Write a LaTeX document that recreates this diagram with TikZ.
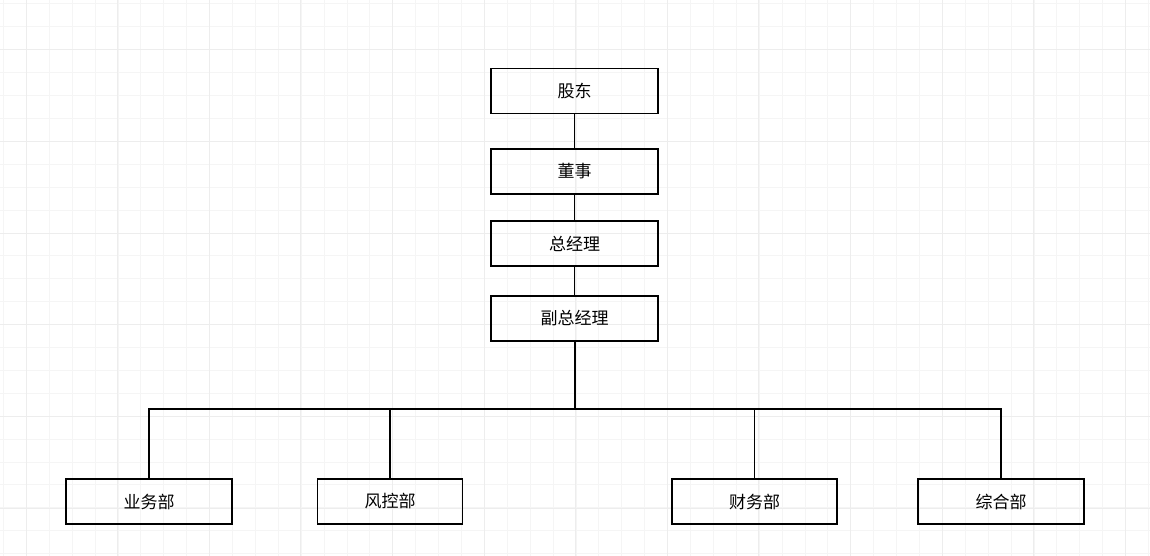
\documentclass[tikz,border=0pt]{standalone}
\usepackage{fontspec}
\newfontfamily\cjk{Noto Sans CJK SC}
\begin{document}
\begin{tikzpicture}[x=1pt,y=-1pt,
  box/.style={draw,line width=1.4pt,minimum width=167pt,minimum height=45pt,font=\cjk\fontsize{17}{19}\selectfont,inner sep=0pt},
  sbox/.style={box,minimum width=145pt},
  link/.style={line width=1.4pt}]
\useasboundingbox (0,0) rectangle (1150,556);
\foreach \i in {0,...,50}{
  \draw[black!4,line width=1pt] ({3.5+22.9*\i},0) -- ({3.5+22.9*\i},556);
}
\foreach \i in {0,...,25}{
  \draw[black!4,line width=1pt] (0,{4+22.9*\i}) -- (1150,{4+22.9*\i});
}
\foreach \i in {0,...,12}{
  \draw[black!7,line width=1pt] ({26+91.6*\i},0) -- ({26+91.6*\i},556);
}
\foreach \i in {0,...,6}{
  \draw[black!7,line width=1pt] (0,{50+91.6*\i}) -- (1150,{50+91.6*\i});
}
\node[box] (gd) at (574.5,91) {股东};
\node[box] (ds) at (574.5,171.5) {董事};
\node[box] (zjl) at (574.5,243.5) {总经理};
\node[box] (fz) at (574.5,318.5) {副总经理};
\node[box,minimum width=166pt] (yw) at (149,501.5) {业务部};
\node[sbox] (fk) at (390,501.5) {风控部};
\node[box,minimum width=165pt] (cw) at (754.5,501.5) {财务部};
\node[box,minimum width=166pt] (zh) at (1001,501.5) {综合部};
\coordinate (bus) at (574.5,409);
\draw[link] (gd) -- (ds);
\draw[link] (ds) -- (zjl);
\draw[link] (zjl) -- (fz);
\draw[line width=2pt] (fz) -- (bus);
\draw[link] (bus) -| (yw.north);
\draw[link] (bus) -| (fk.north);
\draw[link] (bus) -| (cw.north);
\draw[link] (bus) -| (zh.north);
\end{tikzpicture}
\end{document}
